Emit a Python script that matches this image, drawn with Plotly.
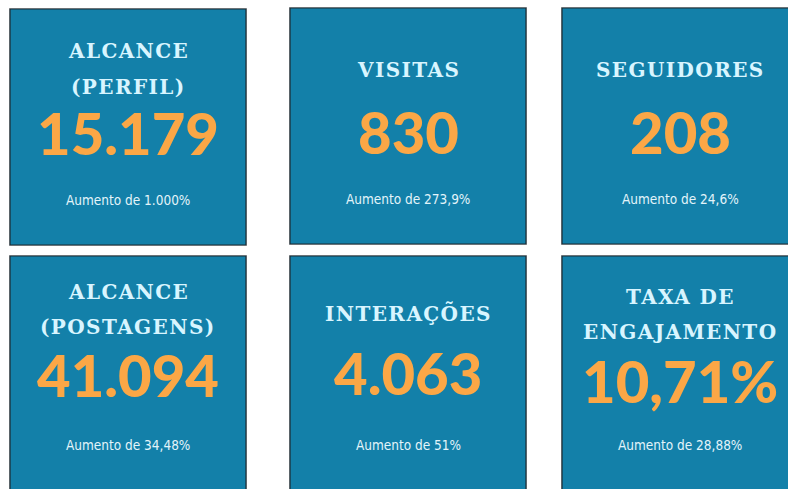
import plotly.graph_objects as go

# ---- data ----
titles = ["ALCANCE<br>(PERFIL)", "VISITAS", "SEGUIDORES",
          "ALCANCE<br>(POSTAGENS)", "INTERAÇÕES", "TAXA DE<br>ENGAJAMENTO"]
values = ["15.179", "830", "208", "41.094", "4.063", "10,71%"]
changes = ["Aumento de 1.000%", "Aumento de 273,9%", "Aumento de 24,6%",
           "Aumento de 34,48%", "Aumento de 51%", "Aumento de 28,88%"]

# ---- layout (pixel space) ----
W, H = 788, 489
col_x0 = [10, 290, 562]
row_y0 = [9, 256]
tile_w, tile_h = 236, 236
# text centre offsets from tile top, per tile
title_ys = [[42, 78], [62], [62], [36, 71], [57], [41, 76]]
num_ys = [123, 123, 123, 118, 116, 124]
sub_ys = [191, 191, 191, 189, 189, 189]

BG = "#1380A9"
ORANGE = "#FBA746"
TITLE_C = "#D8F5FF"
SUB_C = "#E3F4FA"

fig = go.Figure()
fig.add_trace(go.Scatter(x=[0, W], y=[0, H], mode="markers",
                         marker=dict(opacity=0), hoverinfo="skip", showlegend=False))

shapes = []
annotations = []
for i, (t, v, c) in enumerate(zip(titles, values, changes)):
    r, col = divmod(i, 3)
    x0 = col_x0[col]
    y0 = row_y0[r] - (1 if (r == 0 and col > 0) else 0)
    cx = x0 + tile_w / 2
    shapes.append(dict(type="rect", xref="x", yref="y",
                       x0=x0 - 1, x1=x0 + tile_w + 1, y0=y0 - 1, y1=y0 + tile_h + 1,
                       fillcolor="#bbbbbb", line=dict(width=0), layer="below"))
    shapes.append(dict(type="rect", xref="x", yref="y",
                       x0=x0, x1=x0 + tile_w, y0=y0, y1=y0 + tile_h,
                       fillcolor=BG, line=dict(color="#1c2a33", width=1.2), layer="below"))
    lines = t.split("<br>")
    for line, yy in zip(lines, title_ys[i]):
        annotations.append(dict(
            x=cx, y=y0 + yy, xref="x", yref="y", showarrow=False,
            text=f'<b><span style="letter-spacing:1.4px">{line}</span></b>',
            font=dict(family="DejaVu Serif", size=20, color=TITLE_C),
            xanchor="center", yanchor="middle"))
    annotations.append(dict(
        x=cx, y=y0 + num_ys[i], xref="x", yref="y", showarrow=False, text=v,
        font=dict(family="Lato", size=58, color=ORANGE, weight=900),
        xanchor="center", yanchor="middle"))
    annotations.append(dict(
        x=cx, y=y0 + sub_ys[i], xref="x", yref="y", showarrow=False,
        text=f'<span style="font-stretch:condensed">{c}</span>',
        font=dict(family="Liberation Sans Narrow, DejaVu Sans Condensed, DejaVu Sans",
                  size=13.5, color=SUB_C),
        xanchor="center", yanchor="middle"))

fig.update_layout(
    width=W, height=H, margin=dict(l=0, r=0, t=0, b=0),
    paper_bgcolor="white", plot_bgcolor="white",
    xaxis=dict(range=[0, W], visible=False, fixedrange=True),
    yaxis=dict(range=[H, 0], visible=False, fixedrange=True),
    shapes=shapes, annotations=annotations, showlegend=False)

fig.write_html("out.html", config={"displayModeBar": False},
               post_script="document.body.style.margin='0px';document.body.style.overflow='hidden';")
